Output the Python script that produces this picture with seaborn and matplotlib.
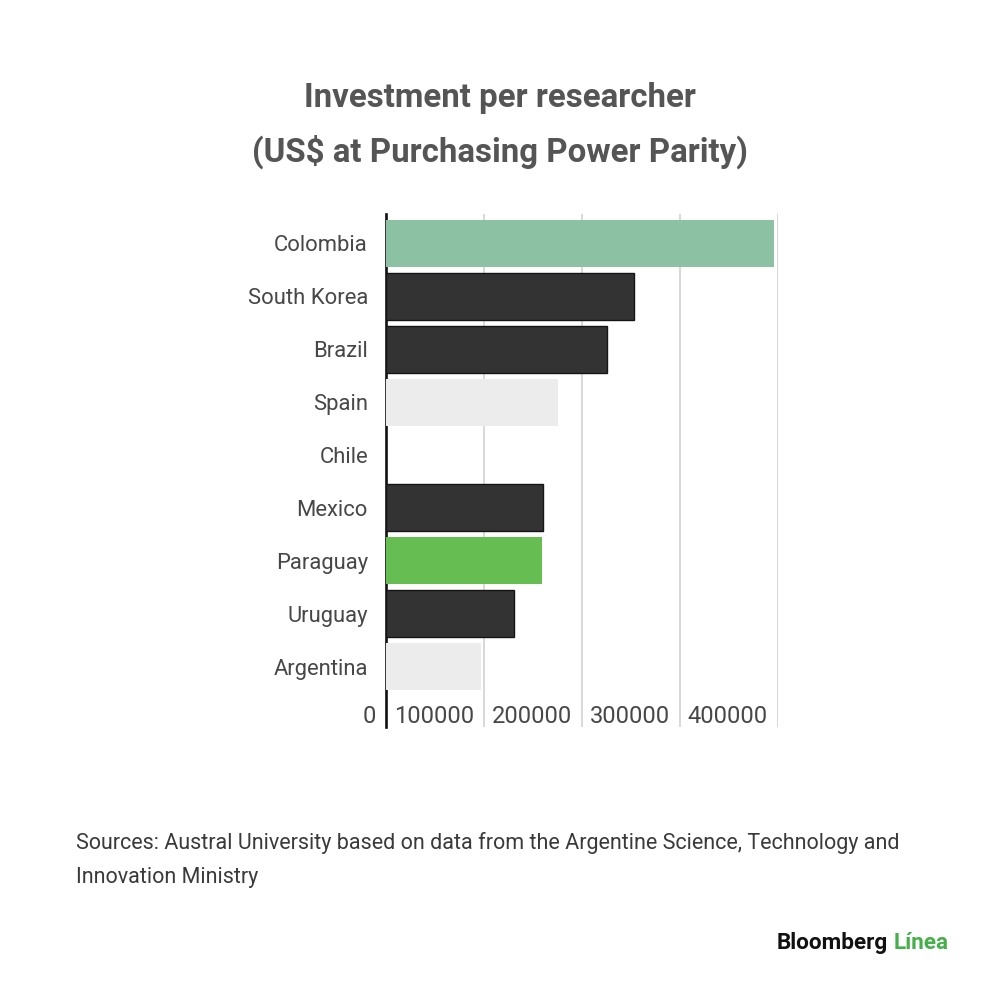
import matplotlib
matplotlib.use('Agg')
import matplotlib.pyplot as plt
import matplotlib.transforms as mtransforms
import seaborn as sns
import pandas as pd

# data
countries = ['Colombia', 'South Korea', 'Brazil', 'Spain', 'Chile',
             'Mexico', 'Paraguay', 'Uruguay', 'Argentina']
investment = [396000, 253000, 226000, 175000, 0, 160000, 159500, 131000, 97000]
bar_colors = ['#8cc2a3', '#333333', '#333333', '#ececec', '#ececec',
              '#333333', '#66be52', '#333333', '#ececec']
xticks = [0, 100000, 200000, 300000, 400000]

title_lines = ['Investment per researcher', '(US$ at Purchasing Power Parity)']
source_text = ('Sources: Austral University based on data from the Argentine Science, Technology and\n'
               'Innovation Ministry')

df = pd.DataFrame({'Country': countries, 'Investment': investment})

sns.set_theme(style='white')
plt.rcParams['font.family'] = ['Roboto', 'DejaVu Sans']

fig = plt.figure(figsize=(10, 9.96), dpi=100)
ax = fig.add_axes([0.386, 0.270, 0.392, 0.515])

sns.barplot(data=df, y='Country', x='Investment', hue='Country',
            palette=bar_colors, legend=False, orient='h', width=0.887,
            saturation=1, ax=ax, zorder=3)

for patch, c in zip(ax.patches, bar_colors):
    if c == '#333333':
        patch.set_edgecolor('#151515')
        patch.set_linewidth(1.0)
    else:
        patch.set_linewidth(0)

ax.set_xlim(0, 400000)
ax.set_ylim(9.14, -0.55)
ax.set_xticks(xticks)
ax.set_xticklabels([str(v) for v in xticks])
ax.xaxis.grid(True, color='#d8d8d8', linewidth=1.4, zorder=0)
ax.set_axisbelow(True)
ax.set_xlabel('')
ax.set_ylabel('')

for side in ['top', 'right', 'bottom']:
    ax.spines[side].set_visible(False)
ax.spines['left'].set_color('#111111')
ax.spines['left'].set_linewidth(1.9)

ax.tick_params(axis='y', length=0, pad=13, labelsize=15.8, labelcolor='#474747')
ax.tick_params(axis='x', length=0, pad=0, labelsize=17, labelcolor='#474747')

# x tick labels sit inside the plot, right-aligned just left of each gridline
offset = mtransforms.ScaledTranslation(-0.10, 0.22, fig.dpi_scale_trans)
for lab in ax.get_xticklabels():
    lab.set_horizontalalignment('right')
    lab.set_transform(lab.get_transform() + offset)

fig.text(0.50, 1 - 98 / 996, title_lines[0], ha='center', va='center',
         fontsize=23.8, fontweight='bold', color='#555555')
fig.text(0.50, 1 - 152 / 996, title_lines[1], ha='center', va='center',
         fontsize=23.8, fontweight='bold', color='#555555')

fig.text(0.076, 1 - 860 / 996, source_text, ha='left', va='center',
         fontsize=15.5, color='#3a3a3a', linespacing=1.75)

fig.text(0.777, 1 - 943 / 996, 'Bloomberg', ha='left', va='center',
         fontsize=16.2, fontweight='bold', color='#111111')
fig.text(0.894, 1 - 943 / 996, 'Línea', ha='left', va='center',
         fontsize=16.2, fontweight='bold', color='#45b04a')

fig.savefig('out.png', dpi=100, facecolor='white')
